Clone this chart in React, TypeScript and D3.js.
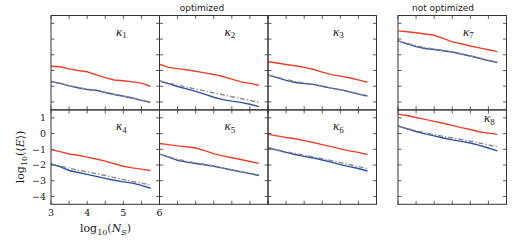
import React, { useEffect, useRef } from "react";
import * as d3 from "d3";

// log10(N_S) sample points
const logNs = [3.0, 3.25, 3.5, 3.75, 4.0, 4.25, 4.5, 4.75, 5.0, 5.25, 5.5, 5.75];

const panelNames = ["1", "2", "3", "7", "4", "5", "6", "8"];

// red curves, one row per panel (κ1, κ2, κ3, κ7, κ4, κ5, κ6, κ8)
const redErr = [
  [-1.73, -1.76, -1.9, -2.0, -2.08, -2.28, -2.45, -2.6, -2.65, -2.72, -2.8, -3.0],
  [-1.6, -1.8, -1.88, -1.95, -2.05, -2.15, -2.25, -2.38, -2.55, -2.72, -2.82, -2.94],
  [-1.44, -1.52, -1.62, -1.7, -1.8, -1.92, -2.1, -2.26, -2.36, -2.46, -2.6, -2.75],
  [0.52, 0.47, 0.4, 0.32, 0.24, 0.05, -0.18, -0.3, -0.44, -0.56, -0.68, -0.8],
  [-1.02, -1.15, -1.3, -1.38, -1.5, -1.62, -1.75, -1.92, -2.08, -2.18, -2.26, -2.35],
  [-0.63, -0.7, -0.78, -0.84, -0.92, -1.08, -1.28, -1.42, -1.54, -1.65, -1.78, -1.9],
  [-0.05, -0.15, -0.25, -0.33, -0.45, -0.57, -0.7, -0.83, -0.97, -1.1, -1.2, -1.33],
  [1.24, 1.15, 1.02, 0.9, 0.78, 0.66, 0.52, 0.38, 0.26, 0.12, 0.03, -0.05],
];

// blue curves
const blueErr = [
  [-2.71, -2.82, -2.98, -3.1, -3.21, -3.26, -3.4, -3.53, -3.64, -3.75, -3.9, -4.03],
  [-2.67, -2.83, -3.02, -3.17, -3.33, -3.5, -3.7, -3.85, -3.95, -4.03, -4.15, -4.3],
  [-2.28, -2.45, -2.63, -2.76, -2.83, -2.88, -3.0, -3.12, -3.22, -3.35, -3.5, -3.62],
  [-0.11, -0.3, -0.48, -0.6, -0.66, -0.74, -0.82, -0.95, -1.08, -1.22, -1.37, -1.5],
  [-1.95, -2.1, -2.35, -2.48, -2.6, -2.72, -2.85, -2.97, -3.07, -3.15, -3.3, -3.48],
  [-1.31, -1.5, -1.7, -1.82, -1.9, -1.98, -2.08, -2.2, -2.32, -2.44, -2.55, -2.67],
  [-0.9, -1.05, -1.2, -1.33, -1.45, -1.55, -1.68, -1.82, -1.98, -2.1, -2.22, -2.38],
  [0.48, 0.3, 0.13, -0.02, -0.15, -0.28, -0.4, -0.5, -0.6, -0.75, -0.92, -1.1],
];

// gray dash-dot curves
const grayErr = [
  [-2.7, -2.8, -2.96, -3.08, -3.19, -3.25, -3.38, -3.51, -3.62, -3.74, -3.88, -4.0],
  [-2.67, -2.8, -2.93, -3.06, -3.18, -3.3, -3.42, -3.54, -3.66, -3.78, -3.9, -4.03],
  [-2.28, -2.42, -2.58, -2.7, -2.8, -2.88, -3.0, -3.12, -3.23, -3.35, -3.48, -3.6],
  [-0.11, -0.27, -0.42, -0.55, -0.63, -0.73, -0.82, -0.95, -1.08, -1.2, -1.34, -1.47],
  [-1.92, -2.05, -2.2, -2.33, -2.43, -2.55, -2.67, -2.8, -2.93, -3.05, -3.15, -3.27],
  [-1.31, -1.47, -1.64, -1.76, -1.86, -1.96, -2.06, -2.18, -2.3, -2.42, -2.52, -2.63],
  [-0.88, -1.02, -1.15, -1.27, -1.38, -1.48, -1.6, -1.72, -1.85, -1.97, -2.1, -2.22],
  [0.48, 0.33, 0.18, 0.05, -0.07, -0.18, -0.28, -0.38, -0.48, -0.6, -0.72, -0.84],
];

const yTickValues = [1, 0, -1, -2, -3, -4];
const xTickLabels = [3, 4, 5, 6];

const App = () => {
  const svgRef = useRef<SVGSVGElement>(null);

  useEffect(() => {
    const svg = d3.select(svgRef.current);
    svg.selectAll("*").remove();

    // panel layout
    const colLeft = [51, 159.5, 268, 398];
    const rowTop = [15.5, 110];
    const pw = 108.5;
    const ph = 94.3;

    const x = d3.scaleLinear().domain([3, 6]).range([0, pw]);
    const y = d3.scaleLinear().domain([-4.5, 1.5]).range([ph, 0]);

    const line = d3.line<number>()
      .x((_, i) => x(logNs[i]))
      .y(d => y(d));

    const frame = "#333";
    const serif = "'DejaVu Serif', serif";
    const kfont = "'Liberation Serif', serif";

    panelNames.forEach((name, k) => {
      const col = k % 4;
      const row = Math.floor(k / 4);
      const g = svg.append("g")
        .attr("transform", `translate(${colLeft[col]},${rowTop[row]})`);

      // ticks (inward, all four sides)
      const xt = d3.range(3, 6.01, 0.5);
      xt.forEach(v => {
        g.append("line").attr("x1", x(v)).attr("x2", x(v)).attr("y1", ph).attr("y2", ph - 3.5)
          .attr("stroke", frame).attr("stroke-width", 0.8);
        g.append("line").attr("x1", x(v)).attr("x2", x(v)).attr("y1", 0).attr("y2", 3.5)
          .attr("stroke", frame).attr("stroke-width", 0.8);
      });
      yTickValues.forEach(v => {
        g.append("line").attr("x1", 0).attr("x2", 3.5).attr("y1", y(v)).attr("y2", y(v))
          .attr("stroke", frame).attr("stroke-width", 0.8);
        g.append("line").attr("x1", pw).attr("x2", pw - 3.5).attr("y1", y(v)).attr("y2", y(v))
          .attr("stroke", frame).attr("stroke-width", 0.8);
      });

      // curves
      g.append("path").datum(redErr[k]).attr("fill", "none").attr("stroke", "#e8432a")
        .attr("stroke-width", 1.4).attr("d", line);
      g.append("path").datum(blueErr[k]).attr("fill", "none").attr("stroke", "#2d4fa5")
        .attr("stroke-width", 1.4).attr("d", line);
      g.append("path").datum(grayErr[k]).attr("fill", "none").attr("stroke", "#8a8a8a")
        .attr("stroke-width", 1.4).attr("stroke-dasharray", "5,2,1.3,2").attr("d", line);

      // frame
      g.append("rect").attr("width", pw).attr("height", ph)
        .attr("fill", "none").attr("stroke", frame).attr("stroke-width", 1);

      // kappa label
      const lab = g.append("text")
        .attr("x", name === "8" ? 86 : 65)
        .attr("y", name === "8" ? 12 : 20)
        .attr("font-family", kfont).attr("font-size", 13).attr("fill", "#222");
      lab.append("tspan").attr("font-style", "italic").text("κ");
      lab.append("tspan").attr("font-size", 9).attr("dy", 2.5).text(name);

      // axis labels only on bottom-left panel
      if (col === 0 && row === 1) {
        yTickValues.forEach(v => {
          g.append("text").attr("x", -5).attr("y", y(v)).attr("dy", "0.35em")
            .attr("text-anchor", "end").attr("font-family", serif).attr("font-size", 9.5)
            .attr("fill", "#222").text(v < 0 ? `−${-v}` : `${v}`);
        });
        xTickLabels.forEach(v => {
          g.append("text").attr("x", x(v)).attr("y", ph + 12)
            .attr("text-anchor", "middle").attr("font-family", serif).attr("font-size", 9.5)
            .attr("fill", "#222").text(`${v}`);
        });
      }
    });

    // y axis label
    const yl = svg.append("text")
      .attr("transform", "translate(24,157) rotate(-90)")
      .attr("text-anchor", "middle").attr("font-family", serif).attr("font-size", 11).attr("fill", "#222");
    yl.append("tspan").text("log");
    yl.append("tspan").attr("font-size", 8).attr("dy", 3).text("10");
    yl.append("tspan").attr("dy", -3).text("(⟨");
    yl.append("tspan").attr("font-style", "italic").text("E");
    yl.append("tspan").text("⟩)");

    // x axis label
    const xl = svg.append("text")
      .attr("x", 105.5).attr("y", 232)
      .attr("text-anchor", "middle").attr("font-family", serif).attr("font-size", 11).attr("fill", "#222");
    xl.append("tspan").text("log");
    xl.append("tspan").attr("font-size", 8).attr("dy", 3).text("10");
    xl.append("tspan").attr("dy", -3).text("(");
    xl.append("tspan").attr("font-style", "italic").text("N");
    xl.append("tspan").attr("font-style", "italic").attr("font-size", 8).attr("dy", 2.5).text("S");
    xl.append("tspan").attr("dy", -2.5).text(")");

    // group titles
    svg.append("text").attr("x", 202).attr("y", 11).attr("text-anchor", "middle")
      .attr("font-family", "'DejaVu Sans', sans-serif").attr("font-size", 9).attr("fill", "#222")
      .text("optimized");
    svg.append("text").attr("x", 443).attr("y", 11).attr("text-anchor", "middle")
      .attr("font-family", "'DejaVu Sans', sans-serif").attr("font-size", 9).attr("fill", "#222")
      .text("not optimized");
  }, []);

  return (
    <svg ref={svgRef} width={512} height={241}
      style={{ position: "absolute", left: 0, top: 0, background: "#fff" }} />
  );
};

export default App;
